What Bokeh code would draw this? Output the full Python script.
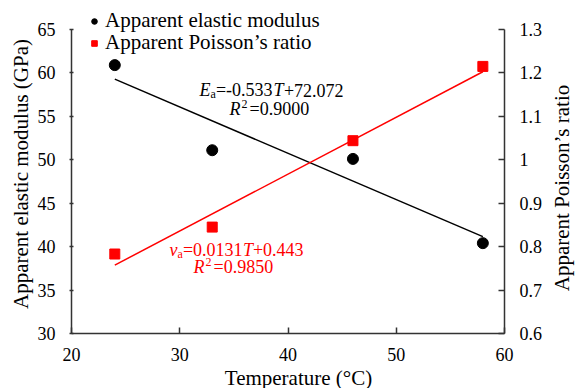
import math
from bokeh.plotting import figure
from bokeh.models import Range1d, LinearAxis, FixedTicker, Legend, LegendItem, Label
from bokeh.embed import file_html
from bokeh.resources import INLINE

# ---- data ----
temperature = [24, 33, 46, 58]
elastic_modulus = [60.9, 51.1, 50.1, 40.4]
poisson_ratio = [0.783, 0.845, 1.044, 1.215]

E_slope, E_intercept = -0.533, 72.072
nu_slope, nu_intercept = 0.0131, 0.443
fit_T = [24, 58]

x_ticks = [20, 30, 40, 50, 60]
y_ticks = [30, 35, 40, 45, 50, 55, 60, 65]
nu_ticks = [0.6, 0.7, 0.8, 0.9, 1.0, 1.1, 1.2, 1.3]
nu_tick_labels = ["0.6", "0.7", "0.8", "0.9", "1", "1.1", "1.2", "1.3"]

series_labels = ["Apparent elastic modulus", "Apparent Poisson\u2019s ratio"]
x_title = "Temperature (\u00b0C)"
y_title = "Apparent elastic modulus (GPa)"
y2_title = "Apparent Poisson\u2019s ratio"

FONT = "Liberation Serif"
AXIS_COLOR = "#333333"
RED = "#ff0000"

# ---- layout: the frame covers the whole canvas; axes sit at fixed locations ----
W, H = 583, 388
AX_LEFT, AX_RIGHT, AX_TOP, AX_BOTTOM = 71, 504, 29, 333   # axis box in pixels
X_LO, X_HI = 20, 60
Y_LO, Y_HI = 30, 65
NU_LO, NU_HI = 0.6, 1.3
kx = (X_HI - X_LO) / (AX_RIGHT - AX_LEFT)
ky = (Y_HI - Y_LO) / (AX_BOTTOM - AX_TOP)
knu = (NU_HI - NU_LO) / (AX_BOTTOM - AX_TOP)

p = figure(width=W, height=H, output_backend="svg", toolbar_location=None,
           x_range=Range1d(X_LO - AX_LEFT * kx, X_HI + (W - AX_RIGHT) * kx),
           y_range=Range1d(Y_LO - (H - AX_BOTTOM) * ky, Y_HI + AX_TOP * ky),
           min_border=0)
p.extra_y_ranges = {"nu": Range1d(NU_LO - (H - AX_BOTTOM) * knu, NU_HI + AX_TOP * knu)}
p.outline_line_color = None
p.xgrid.grid_line_color = None
p.ygrid.grid_line_color = None
p.background_fill_color = "white"
p.border_fill_color = "white"


def style_axis(ax, tick_in, tick_out, standoff):
    ax.major_label_text_font = FONT
    ax.major_label_text_font_size = "18px"
    ax.major_label_text_color = "black"
    ax.major_label_standoff = standoff
    ax.axis_line_color = AXIS_COLOR
    ax.axis_line_width = 1.5
    ax.major_tick_line_color = AXIS_COLOR
    ax.major_tick_line_width = 1.5
    ax.major_tick_in = tick_in
    ax.major_tick_out = tick_out
    ax.minor_tick_line_color = None


xa = p.xaxis[0]
xa.ticker = FixedTicker(ticks=x_ticks, minor_ticks=[])
xa.bounds = (X_LO, X_HI)
xa.fixed_location = Y_LO
style_axis(xa, 6, 0, 14)

ya = p.yaxis[0]
ya.ticker = FixedTicker(ticks=y_ticks, minor_ticks=[])
ya.bounds = (Y_LO, Y_HI)
ya.fixed_location = X_LO
style_axis(ya, 2, 2, 14)

y2 = LinearAxis(y_range_name="nu", ticker=FixedTicker(ticks=nu_ticks, minor_ticks=[]),
                bounds=(NU_LO, NU_HI), fixed_location=X_HI)
y2.major_label_overrides = {t: s for t, s in zip(nu_ticks, nu_tick_labels)}
style_axis(y2, 6, 0, 15)
p.add_layout(y2, "right")


# ---- axis titles ----
def title_label(text, x, y, angle, range_name="default"):
    p.add_layout(Label(x=x, y=y, y_range_name=range_name, text=text, angle=angle,
                       text_align="center", text_baseline="middle",
                       text_font=FONT, text_font_size="21px", text_color="black"))


title_label(x_title, X_LO + (298 - AX_LEFT) * kx, Y_LO - (377 - AX_BOTTOM) * ky, 0)
title_label(y_title, X_LO - (AX_LEFT - 20) * kx, Y_HI - (173.5 - AX_TOP) * ky, math.pi / 2)
title_label(y2_title, X_LO + (561 - AX_LEFT) * kx, NU_LO + (AX_BOTTOM - 187.5) * knu,
            math.pi / 2, "nu")

# ---- trend lines from the stated equations ----
E_fit = [E_slope * t + E_intercept for t in fit_T]
nu_fit = [nu_slope * t + nu_intercept for t in fit_T]
p.line(fit_T, E_fit, line_color="black", line_width=1.5)
p.line(fit_T, nu_fit, line_color=RED, line_width=1.5, y_range_name="nu")

# ---- markers ----
r_e = p.scatter(temperature, elastic_modulus, marker="circle", size=11,
                fill_color="black", line_color="black")
r_nu = p.scatter(temperature, poisson_ratio, marker="square", size=10,
                 fill_color=RED, line_color=RED, y_range_name="nu")


def make_legend(label, renderer, loc):
    return Legend(items=[LegendItem(label=label, renderers=[renderer])],
                  location=loc, orientation="vertical",
                  label_text_font=FONT, label_text_font_size="21px",
                  label_text_color="black",
                  glyph_width=14, glyph_height=14, label_standoff=4,
                  label_height=21, spacing=0, padding=0, margin=0,
                  border_line_color=None, background_fill_alpha=0)


p.add_layout(make_legend(series_labels[0], r_e, (87, 355)))
p.add_layout(make_legend(series_labels[1], r_nu, (87, 333)))


# ---- rich-text equation annotations ----
def rich(x, y, segments, color):
    for text, dx, dy, size, style in segments:
        p.add_layout(Label(x=x, y=y, x_offset=dx, y_offset=dy, text=text,
                           text_font=FONT, text_font_size=size,
                           text_font_style=style, text_color=color,
                           text_baseline="alphabetic", text_align="left"))


rich(31.82, 57.98, [("E", 0, 0, "18px", "italic"),
                    ("a", 11, -4, "12px", "normal"),
                    ("=-0.533", 16.5, 0, "18px", "normal"),
                    ("T", 74, 0, "18px", "italic"),
                    ("+72.072", 84.5, 0, "18px", "normal")], "black")
rich(34.6, 55.79, [("R", 0, 0, "18px", "italic"),
                   ("2", 12, 5, "12px", "normal"),
                   ("=0.9000", 20, 0, "18px", "normal")], "black")
rich(29.05, 39.67, [("v", 0, 0, "18px", "italic"),
                    ("a", 8, -4, "12px", "normal"),
                    ("=0.0131", 13.5, 0, "18px", "normal"),
                    ("T", 73.5, 0, "18px", "italic"),
                    ("+0.443", 83.5, 0, "18px", "normal")], RED)
rich(31.27, 37.71, [("R", 0, 0, "18px", "italic"),
                    ("2", 12, 5, "12px", "normal"),
                    ("=0.9850", 20, 0, "18px", "normal")], RED)

open("out.html", "w").write(file_html(p, INLINE))
